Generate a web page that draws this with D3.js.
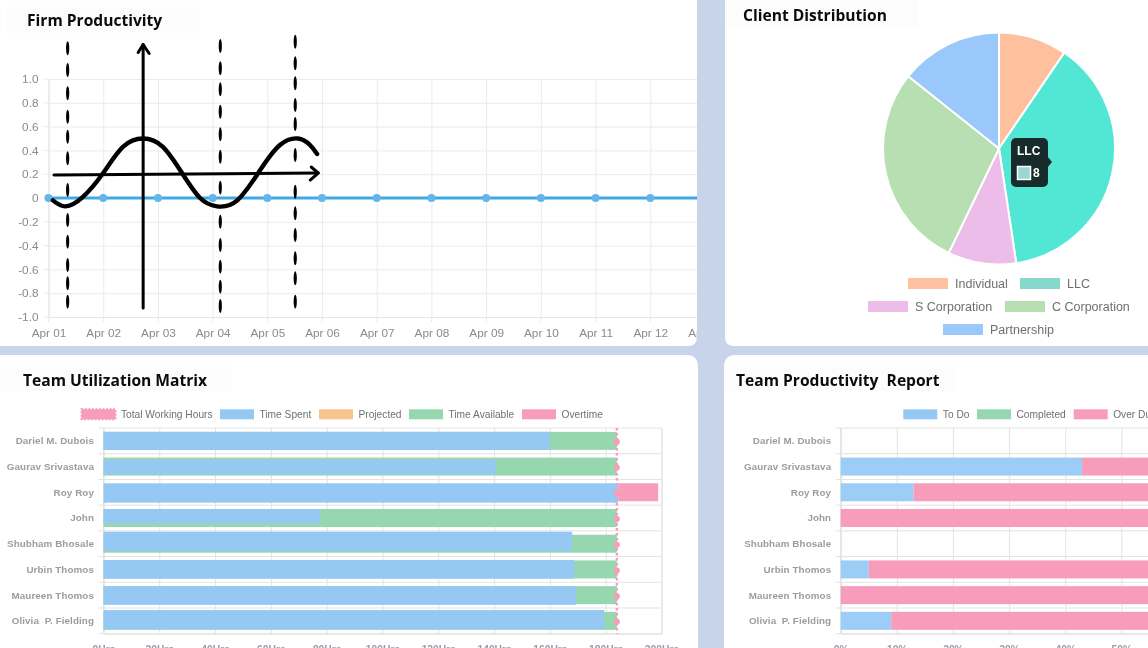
<!DOCTYPE html>
<html lang="en">
<head>
<meta charset="utf-8">
<script src="https://cdn.jsdelivr.net/npm/d3@7"></script>
<style>
    html, body { margin: 0; padding: 0; background: #c8d4e9; overflow: hidden; }
    svg { display: block; filter: blur(0.35px); }
    text { font-family: "Liberation Sans", Arial, sans-serif; }
    .title { font-family: "Open Sans", sans-serif; font-weight: 700; font-size: 15.6px; fill: #0b0b0b; white-space: pre; }
    .grid line { stroke: #ebebeb; }
    .grid path { stroke: #e6e6e6; }
    .ticks text { fill: #8a8a8a; font-size: 11.8px; }
    .names text { fill: #9b9ca3; font-size: 9.8px; font-weight: 700; letter-spacing: 0.1px; white-space: pre; }
    .legend text { fill: #707070; font-size: 10.2px; }
    .pie-legend text { fill: #6f6f6f; font-size: 12.5px; }
</style>
</head>
<body>
<div id="chart"></div>
<script>
// line chart
var days = ["Apr 01", "Apr 02", "Apr 03", "Apr 04", "Apr 05", "Apr 06", "Apr 07", "Apr 08", "Apr 09", "Apr 10", "Apr 11", "Apr 12", "Apr 13"];
var productivity = [0, 0, 0, 0, 0, 0, 0, 0, 0, 0, 0, 0, 0];
var productivityTicks = [-1, -0.8, -0.6, -0.4, -0.2, 0, 0.2, 0.4, 0.6, 0.8, 1];

// hand drawn marks on top of the line chart, as [day index, value]
var sketchCurve = [[0.08, -0.02], [0.31, -0.07], [0.63, 0.01], [1, 0.21], [1.36, 0.43], [1.73, 0.5], [2.09, 0.43], [2.44, 0.21],
    [2.77, 0], [3.08, -0.07], [3.45, -0.02], [3.87, 0.235], [4.23, 0.445], [4.56, 0.5], [4.78, 0.445], [4.91, 0.37]];
var sketchAxisX = [[0.1, 0.193], [4.93, 0.21]];
var sketchAxisY = [[1.73, -0.925], [1.73, 1.29]];
// the three dashed verticals: day index and the value at the middle of each dash
var dashDays = [0.35, 3.14, 4.51];
var dashValues = [
    [1.258, 1.076, 0.88, 0.683, 0.515, 0.333, 0.067, -0.185, -0.367, -0.563, -0.717, -0.871],
    [1.277, 1.09, 0.913, 0.725, 0.535, 0.347, 0.087, -0.199, -0.395, -0.577, -0.745, -0.908],
    [1.313, 1.132, 0.964, 0.782, 0.622, 0.361, 0.053, -0.129, -0.311, -0.507, -0.675, -0.871]
];

// pie chart
var clientTypes = ["Individual", "LLC", "S Corporation", "C Corporation", "Partnership"];
var clientCounts = [2, 8, 2, 6, 3];

// bar charts
var members = ["Dariel M. Dubois", "Gaurav Srivastava", "Roy Roy", "John", "Shubham Bhosale", "Urbin Thomos", "Maureen Thomos", "Olivia  P. Fielding"];
var totalHours = [184, 184, 184, 184, 184, 184, 184, 184];
var timeSpent = [160, 140.7, 184.5, 77.6, 168, 168.7, 169.4, 179.5];
var timeAvailable = [24, 43.3, 0, 106.4, 16, 15.3, 14.6, 4.5];
var overtime = [0, 0, 14.3, 0, 0, 0, 0, 0];
var hourTicks = [0, 20, 40, 60, 80, 100, 120, 140, 160, 180, 200];

var toDo = [0, 43, 13, 0, 0, 5, 0, 9];
var completed = [0, 0, 0, 0, 0, 0, 0, 0];
var overDue = [0, 57, 87, 100, 0, 95, 100, 91];
var percentTicks = [0, 10, 20, 30, 40, 50, 60, 70, 80, 90, 100];

var blue = "#95c9f4", green = "#96d7b0", pink = "#f79cba", orange = "#f8c490";

var svg = d3.select("#chart").append("svg").attr("width", 1148).attr("height", 648);
var defs = svg.append("defs");

function panel(x, y, w, h, r) {
    svg.append("rect").attr("x", x).attr("y", y).attr("width", w).attr("height", h).attr("rx", r).attr("fill", "#fff");
}
panel(-12, -12, 709, 358, 8);
panel(725, -12, 440, 358, 8);
panel(-12, 355, 710, 310, 10);
panel(724, 355, 440, 310, 10);

function title(label, x, y, bx, by, bw, bh) {
    svg.append("rect").attr("x", bx).attr("y", by).attr("width", bw).attr("height", bh).attr("fill", "#fcfcfc");
    svg.append("text").attr("class", "title").attr("x", x).attr("y", y).text(label);
}
title("Firm Productivity", 27, 26, 7, 7, 193, 26);
title("Client Distribution", 743, 21, 725, 0, 193, 27);
title("Team Utilization Matrix", 23, 386, 0, 367, 232, 24);
title("Team Productivity  Report", 736, 386, 724, 367, 232, 24);

// ---- Firm Productivity ----
defs.append("clipPath").attr("id", "lineClip").append("rect").attr("x", 0).attr("y", 0).attr("width", 697).attr("height", 346);

var lineX = d3.scalePoint().domain(d3.range(days.length)).range([48.5, 705]);
var lineY = d3.scaleLinear().domain([-1, 1]).range([317, 79]);
var lineChart = svg.append("g").attr("clip-path", "url(#lineClip)");

lineChart.append("g").attr("class", "grid ticks").attr("transform", "translate(48.5,0)")
    .call(d3.axisLeft(lineY).tickValues(productivityTicks).tickSize(-660).tickPadding(10)
        .tickFormat(function(d) { return d === 0 ? "0" : d.toFixed(1); }));
lineChart.append("g").attr("class", "grid ticks").attr("transform", "translate(0,317)")
    .call(d3.axisBottom(lineX).tickSize(-238).tickPadding(12).tickFormat(function(i) { return days[i]; }));
// short tick stubs below and left of the plot
lineChart.selectAll(".stubX").data(d3.range(days.length)).enter().append("line")
    .attr("x1", function(d) { return lineX(d); }).attr("x2", function(d) { return lineX(d); })
    .attr("y1", 317).attr("y2", 322).attr("stroke", "#ebebeb");
lineChart.selectAll(".stubY").data(productivityTicks).enter().append("line")
    .attr("x1", 43).attr("x2", 48.5)
    .attr("y1", function(d) { return lineY(d); }).attr("y2", function(d) { return lineY(d); }).attr("stroke", "#ebebeb");

lineChart.append("path").datum(productivity)
    .attr("fill", "none").attr("stroke", "#3fa9e4").attr("stroke-width", 3)
    .attr("d", d3.line().x(function(d, i) { return lineX(i); }).y(function(d) { return lineY(d); }));
lineChart.selectAll(".pt").data(productivity).enter().append("circle")
    .attr("cx", function(d, i) { return lineX(i); })
    .attr("cy", function(d) { return lineY(d); })
    .attr("r", 4).attr("fill", "#62b6ea");

// sketch
var sketchX = d3.scaleLinear().domain([0, 1]).range([lineX(0), lineX(1)]);
var sketchLine = d3.line().x(function(d) { return sketchX(d[0]); }).y(function(d) { return lineY(d[1]); });
var sketch = svg.append("g").attr("fill", "none").attr("stroke", "#000").attr("stroke-linecap", "round").attr("stroke-linejoin", "round");
sketch.append("path").datum(sketchCurve).attr("stroke-width", 4.4).attr("d", sketchLine.curve(d3.curveNatural));
sketchLine.curve(d3.curveLinear);
sketch.append("path").datum(sketchAxisX).attr("stroke-width", 3).attr("d", sketchLine);
sketch.append("path").datum(sketchAxisY).attr("stroke-width", 3).attr("d", sketchLine);
dashValues.forEach(function(values, k) {
    svg.append("g").selectAll("ellipse").data(values).enter().append("ellipse")
        .attr("cx", sketchX(dashDays[k]))
        .attr("cy", function(d) { return lineY(d); })
        .attr("rx", 1.6).attr("ry", 7).attr("fill", "#000");
});
// arrow heads
var tipX = sketchAxisX[1], tipY = sketchAxisY[1];
sketch.append("path").attr("stroke-width", 3)
    .attr("d", "M" + (sketchX(tipX[0]) - 7) + "," + (lineY(tipX[1]) - 6) + "L" + sketchX(tipX[0]) + "," + lineY(tipX[1]) + "L" + (sketchX(tipX[0]) - 8) + "," + (lineY(tipX[1]) + 7));
sketch.append("path").attr("stroke-width", 3)
    .attr("d", "M" + (sketchX(tipY[0]) - 5) + "," + (lineY(tipY[1]) + 8) + "L" + sketchX(tipY[0]) + "," + lineY(tipY[1]) + "L" + (sketchX(tipY[0]) + 6) + "," + (lineY(tipY[1]) + 9));

// ---- Client Distribution ----
var pieColor = d3.scaleOrdinal().domain(clientTypes).range(["#ffc09f", "#52e6d5", "#ebbde8", "#b7dfb2", "#9ac8fb"]);
var legendColor = d3.scaleOrdinal().domain(clientTypes).range(["#ffc09f", "#86d8cb", "#ebbde8", "#b7dfb2", "#9ac8fb"]);
var pieG = svg.append("g").attr("transform", "translate(999,148.5)");
var arcs = d3.pie().sort(null)(clientCounts);
pieG.selectAll("path").data(arcs).enter().append("path")
    .attr("d", d3.arc().innerRadius(0).outerRadius(116))
    .attr("fill", function(d, i) { return pieColor(clientTypes[i]); })
    .attr("stroke", "#fff").attr("stroke-width", 2);

var pieLegendSpots = [[908, 278], [1020, 278], [868, 301], [1005, 301], [943, 324]];
var pieLegend = svg.append("g").attr("class", "pie-legend");
clientTypes.forEach(function(name, i) {
    var p = pieLegendSpots[i];
    pieLegend.append("rect").attr("x", p[0]).attr("y", p[1]).attr("width", 40).attr("height", 11).attr("fill", legendColor(name));
    pieLegend.append("text").attr("x", p[0] + 47).attr("y", p[1] + 10).text(name);
});

// tooltip
var tooltip = svg.append("g").attr("transform", "translate(1011,138)");
tooltip.append("path").attr("d", "M36,18L41,24L36,30Z").attr("fill", "#172b2b");
tooltip.append("rect").attr("width", 37).attr("height", 49).attr("rx", 5).attr("fill", "#172b2b");
tooltip.append("text").attr("x", 6).attr("y", 17).attr("fill", "#fff").attr("font-size", 12).attr("font-weight", 700).text(clientTypes[1]);
tooltip.append("rect").attr("x", 6.5).attr("y", 28.5).attr("width", 13).attr("height", 13).attr("fill", "#9ad9d1").attr("stroke", "#fff").attr("stroke-width", 1.5);
tooltip.append("text").attr("x", 22).attr("y", 39).attr("fill", "#fff").attr("font-size", 12).attr("font-weight", 700).text(clientCounts[1]);

// ---- bar charts ----
var rowY = d3.scaleBand().domain(members).range([428, 633.7]);
var barHalf = 9;

function barFrame(x, tickVals, fmt, left, right) {
    var g = svg.append("g");
    g.append("g").attr("class", "grid ticks").attr("transform", "translate(0,633.7)")
        .call(d3.axisBottom(x).tickValues(tickVals).tickSize(-205.7).tickPadding(12).tickFormat(fmt))
        .selectAll("text").style("font-size", "10.3px").style("font-weight", 700).style("fill", "#9b9ca3");
    g.selectAll(".grid line").style("stroke", "#e3e3e3");
    g.selectAll(".grid path").style("stroke", "#e3e3e3");
    g.append("g").selectAll("line").data(d3.range(members.length + 1)).enter().append("line")
        .attr("x1", left - 5).attr("x2", right)
        .attr("y1", function(i) { return 428 + i * rowY.step(); })
        .attr("y2", function(i) { return 428 + i * rowY.step(); })
        .attr("stroke", "#e3e3e3");
    g.append("line").attr("x1", left).attr("x2", left).attr("y1", 428).attr("y2", 633.7).attr("stroke", "#e3e3e3");
    var names = g.append("g").attr("class", "names");
    members.forEach(function(name) {
        names.append("text").attr("x", left - 9.5).attr("y", rowY(name) + rowY.bandwidth() / 2 + 3.5)
            .attr("text-anchor", "end").text(name);
    });
}

function legendItems(items) {
    var g = svg.append("g").attr("class", "legend");
    items.forEach(function(it) {
        var sw = g.append("rect").attr("x", it.x).attr("y", 409.3).attr("width", 34).attr("height", 10).attr("fill", it.color);
        if (it.dotted) sw.attr("stroke", it.color).attr("stroke-width", 2).attr("stroke-dasharray", "2 1.5");
        g.append("text").attr("x", it.x + 39.5).attr("y", 417.5).text(it.label);
    });
}

// Team Utilization Matrix
var hoursX = d3.scaleLinear().domain([0, 200]).range([103.5, 661.5]);
barFrame(hoursX, hourTicks, function(d) { return d + "Hrs"; }, 103.5, 661.5);
legendItems([
    {x: 81.5, color: pink, label: "Total Working Hours", dotted: true},
    {x: 220, color: blue, label: "Time Spent"},
    {x: 319, color: orange, label: "Projected"},
    {x: 409, color: green, label: "Time Available"},
    {x: 522, color: pink, label: "Overtime"}
]);

// the blue bars do not sit quite flush with the green ones in this picture: [top, bottom] shift per row
var spentNudge = [[0, 0], [2.4, -1.3], [0, 1.4], [0, -3.7], [-3, -1.7], [-0.4, 0.3], [0, 0.7], [-1.8, -0.5]];

var hoursG = svg.append("g");
members.forEach(function(name, i) {
    var mid = rowY(name) + rowY.bandwidth() / 2;
    var spentEnd = hoursX(timeSpent[i]);
    // green is drawn full length under the blue bar
    if (timeAvailable[i] > 0) {
        hoursG.append("rect").attr("x", hoursX(0)).attr("y", mid - barHalf)
            .attr("width", hoursX(timeSpent[i] + timeAvailable[i]) - hoursX(0)).attr("height", barHalf * 2).attr("fill", green);
    }
    if (overtime[i] > 0) {
        hoursG.append("rect").attr("x", spentEnd).attr("y", mid - barHalf)
            .attr("width", hoursX(timeSpent[i] + overtime[i]) - spentEnd).attr("height", barHalf * 2).attr("fill", pink);
    }
    hoursG.append("rect").attr("x", hoursX(0)).attr("y", mid - barHalf + spentNudge[i][0])
        .attr("width", spentEnd - hoursX(0)).attr("height", barHalf * 2 + spentNudge[i][1] - spentNudge[i][0]).attr("fill", blue);
});

// total working hours, dotted line with a dot per row
hoursG.append("line").attr("x1", hoursX(totalHours[0])).attr("x2", hoursX(totalHours[0]))
    .attr("y1", 428).attr("y2", 633.7).attr("stroke", pink).attr("stroke-width", 2.4).attr("stroke-dasharray", "2.5 2.5");
hoursG.selectAll("circle").data(totalHours).enter().append("circle")
    .attr("cx", function(d) { return hoursX(d); })
    .attr("cy", function(d, i) { return rowY(members[i]) + rowY.bandwidth() / 2 + 1; })
    .attr("r", 3).attr("fill", pink);

// Team Productivity Report
var percentX = d3.scaleLinear().domain([0, 100]).range([840.7, 1402]);
barFrame(percentX, percentTicks, function(d) { return d + "%"; }, 840.7, 1148);
legendItems([
    {x: 903.3, color: blue, label: "To Do"},
    {x: 977, color: green, label: "Completed"},
    {x: 1073.7, color: pink, label: "Over Due"}
]);

var reportG = svg.append("g");
[[toDo, "#9ccdf7"], [completed, green], [overDue, pink]].forEach(function(series, s, all) {
    members.forEach(function(name, i) {
        var before = d3.sum(all.slice(0, s), function(o) { return o[0][i]; });
        if (series[0][i] > 0) {
            reportG.append("rect").attr("x", percentX(before)).attr("y", rowY(name) + rowY.bandwidth() / 2 - barHalf)
                .attr("width", percentX(before + series[0][i]) - percentX(before)).attr("height", barHalf * 2).attr("fill", series[1]);
        }
    });
});
</script>
</body>
</html>
